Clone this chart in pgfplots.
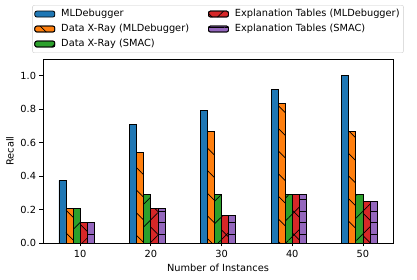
\documentclass[border=0pt]{standalone}
\usepackage{fontspec}
\setmainfont{DejaVu Sans}
\usepackage{pgfplots}
\pgfplotsset{compat=1.18}
\usetikzlibrary{patterns.meta}
\definecolor{c1}{HTML}{1F77B4}
\definecolor{c2}{HTML}{FF7F0E}
\definecolor{c3}{HTML}{2CA02C}
\definecolor{c4}{HTML}{D62728}
\definecolor{c5}{HTML}{9467BD}
\tikzset{
  sblue/.style={fill=c1, draw=black, line width=0.8pt},
  sorange/.style={fill=c2, draw=black, line width=0.8pt, postaction={pattern={Lines[angle=-45,distance=16pt,line width=0.7pt]}, pattern color=black}},
  sgreen/.style={fill=c3, draw=black, line width=0.8pt, postaction={pattern={Lines[angle=45,distance=16pt,line width=0.7pt]}, pattern color=black}},
  sred/.style={fill=c4, draw=black, line width=0.8pt, postaction={pattern={Hatch[angle=45,distance=16pt,line width=0.7pt]}, pattern color=black}},
  spurple/.style={fill=c5, draw=black, line width=0.8pt, postaction={pattern={Lines[angle=0,distance=11.5pt,line width=0.9pt]}, pattern color=black}},
}
\newcommand{\fs}{\fontsize{9.8}{12}\selectfont}
\begin{document}
\fs
\begin{tikzpicture}
\begin{axis}[
  scale only axis, width=350pt, height=184pt,
  at={(0,0)}, anchor=south west,
  xmin=4.75, xmax=54.25, ymin=0, ymax=1.1,
  xtick={10,20,30,40,50}, ytick={0,0.2,0.4,0.6,0.8,1.0},
  yticklabel style={/pgf/number format/.cd, fixed, fixed zerofill, precision=1},
  /pgf/number format/assume math mode=true,
  tick align=outside, xtick pos=bottom, ytick pos=left, major tick length=3.5pt,
  tick style={black, line width=0.8pt},
  axis line style={line width=0.8pt},
  ticklabel style={font=\fs},
  label style={font=\fs},
  xlabel={Number of Instances}, ylabel={Recall},
  legend columns=2, legend cell align=left,
  legend style={at={(0.5,1)}, anchor=south, yshift=6pt, draw=black!20, rounded corners=2pt,
    font=\fs, row sep=0.5pt, inner xsep=2pt, inner ysep=1.5pt,
    nodes={inner sep=2pt, text height=8pt, text depth=2.5pt},
    /tikz/every odd column/.append style={column sep=4pt},
    /tikz/every even column/.append style={column sep=17pt}},
  legend image code/.code={\draw[#1] (0pt,-3pt) rectangle (20pt,3pt);},
]
\addlegendimage{sblue}\addlegendentry{MLDebugger}
\addlegendimage{sred}\addlegendentry{Explanation Tables (MLDebugger)}
\addlegendimage{sorange}\addlegendentry{Data X-Ray (MLDebugger)}
\addlegendimage{spurple}\addlegendentry{Explanation Tables (SMAC)}
\addlegendimage{sgreen}\addlegendentry{Data X-Ray (SMAC)}

\addplot[ybar, bar width=1, bar shift=-2.5, sblue, forget plot] coordinates {(10,0.375) (20,0.7083) (30,0.7917) (40,0.9167) (50,1.0)};
\addplot[ybar, bar width=1, bar shift=-1.5, sorange, forget plot] coordinates {(10,0.2083) (20,0.5417) (30,0.6667) (40,0.8333) (50,0.6667)};
\addplot[ybar, bar width=1, bar shift=-0.5, sgreen, forget plot] coordinates {(10,0.2083) (20,0.2917) (30,0.2917) (40,0.2917) (50,0.2917)};
\addplot[ybar, bar width=1, bar shift=0.5, sred, forget plot] coordinates {(10,0.125) (20,0.2083) (30,0.1667) (40,0.2917) (50,0.25)};
\addplot[ybar, bar width=1, bar shift=1.5, spurple, forget plot] coordinates {(10,0.125) (20,0.2083) (30,0.1667) (40,0.2917) (50,0.25)};
\end{axis}
\pgfresetboundingbox
\path (-43pt,-37pt) rectangle (374pt,243pt);
\end{tikzpicture}
\end{document}
